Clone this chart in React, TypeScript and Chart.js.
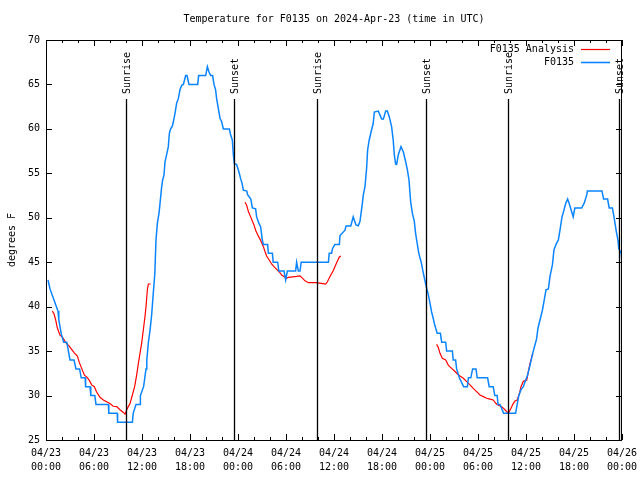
import React, { useEffect, useRef } from "react";
import { Chart, registerables } from "chart.js";

Chart.register(...registerables);

const titleText = "Temperature for F0135 on 2024-Apr-23 (time in UTC)";
const yAxisTitle = "degrees F";
const xTickDates = ["04/23", "04/23", "04/23", "04/23", "04/24", "04/24", "04/24", "04/24", "04/25", "04/25", "04/25", "04/25", "04/26"];
const xTickTimes = ["00:00", "06:00", "12:00", "18:00", "00:00", "06:00", "12:00", "18:00", "00:00", "06:00", "12:00", "18:00", "00:00"];

// hours since 04/23 00:00 UTC
const sunEventHours = [9.96, 23.54, 33.91, 47.56, 57.79, 71.63];
const sunEventLabels = ["Sunrise", "Sunset", "Sunrise", "Sunset", "Sunrise", "Sunset"];

const obsHours = [
  0.25, 0.5, 0.9, 1.3, 1.5, 1.6, 1.9, 2.2, 2.6, 2.8, 3.0, 3.5, 3.75, 4.2, 4.4, 4.9, 4.95, 5.5, 5.6, 6.1,
  6.25, 7.8, 7.85, 8.9, 8.95, 10.8, 10.9, 11.25, 11.75, 11.8, 12.2, 12.35, 12.5, 12.6, 12.8, 13.0, 13.2, 13.4, 13.6, 13.75,
  13.92, 14.125, 14.25, 14.46, 14.58, 14.75, 14.875, 15.08, 15.29, 15.42, 15.58, 15.79, 15.92, 16.125, 16.33, 16.54, 16.75, 16.96, 17.17, 17.46,
  17.625, 17.875, 18.96, 19.08, 19.96, 20.17, 20.375, 20.58, 20.83, 21.0, 21.2, 21.33, 21.54, 21.75, 21.96, 22.17, 22.92, 23.08, 23.29, 23.42,
  23.54, 23.83, 24.1, 24.33, 24.5, 24.67, 25.1, 25.2, 25.6, 25.8, 26.2, 26.33, 26.6, 26.83, 27.04, 27.17, 27.7, 27.8, 28.3, 28.4,
  28.96, 29.1, 29.75, 29.96, 30.17, 31.2, 31.33, 31.54, 31.75, 31.9, 35.3, 35.4, 35.7, 35.8, 36.1, 36.67, 36.75, 37.375, 37.5, 38.1,
  38.4, 38.75, 39.04, 39.25, 39.54, 39.67, 39.875, 40.08, 40.2, 40.4, 40.7, 40.9, 41.04, 41.54, 41.96, 42.17, 42.46, 42.67, 42.9, 43.2,
  43.4, 43.54, 43.7, 43.83, 44.04, 44.375, 44.67, 44.96, 45.17, 45.375, 45.58, 45.8, 46.04, 46.2, 46.33, 46.6, 46.9, 47.17, 47.4, 47.58,
  47.8, 48.0, 48.2, 48.4, 48.6, 48.9, 49.3, 49.46, 49.96, 50.08, 50.8, 50.9, 51.2, 51.33, 51.67, 52.2, 52.67, 52.8, 53.1, 53.33,
  53.75, 53.9, 55.2, 55.4, 55.9, 56.1, 56.4, 56.5, 56.75, 57.2, 58.7, 58.9, 59.1, 59.4, 59.67, 59.9, 60.2, 60.5, 60.8, 61.0,
  61.33, 61.5, 61.75, 62.05, 62.25, 62.5, 62.8, 63.0, 63.3, 63.5, 63.8, 64.04, 64.25, 64.5, 64.7, 64.96, 65.2, 65.4, 65.7, 65.9,
  66.1, 66.96, 67.3, 67.6, 67.67, 69.5, 69.7, 70.2, 70.4, 70.8, 71.0, 71.3, 71.5, 71.6, 71.9, 72.0,
];
const obsTemps = [
  43, 42, 41, 40, 39.5, 38.5, 37, 36, 36, 35, 34, 34, 33, 33, 32, 32, 31, 31, 30, 30,
  29, 29, 28, 28, 27, 27, 28, 29, 29, 30, 31, 32, 33, 34, 36, 37.3, 39, 41.4, 43.7, 47.5,
  49.4, 50.5, 51.6, 53.5, 54.25, 54.8, 56.3, 57.1, 58, 59.5, 60, 60.3, 60.8, 61.75, 62.9, 63.4, 64.4, 64.9, 65, 66,
  66, 65, 65, 66, 66, 67, 66.4, 66, 66, 65, 64.4, 63.4, 62.3, 61.2, 60.8, 60, 60, 59.3, 58.75, 57.1,
  56.1, 56, 55.2, 54.4, 53.9, 53.1, 53, 52.6, 52.1, 51.1, 51, 50.1, 49.4, 49, 47.5, 47, 47, 46, 46, 45,
  45, 44, 44, 43, 44, 44, 45, 44, 44, 45, 45, 46, 46, 46.5, 47, 47, 48, 48.6, 49.07, 49.07,
  50.1, 49.2, 49.1, 49.6, 51.6, 52.6, 53.5, 55.6, 57.6, 58.75, 59.9, 60.6, 61.9, 62, 61.1, 61.1, 62, 62, 61.4, 60.25,
  58.75, 57.1, 56.05, 56, 57.1, 58, 57.4, 56.3, 55.4, 54.25, 51.8, 50.5, 49.6, 48.25, 47.5, 46, 45, 43.75, 42.8, 42.1,
  41.3, 40.4, 39.4, 38.7, 37.9, 37, 37, 36, 36, 35, 35, 34, 34, 33, 32, 31, 31, 32, 32, 33,
  33, 32, 32, 31, 31, 30, 30, 29, 29, 28, 28, 29, 30, 30.7, 31, 31.6, 32.3, 33.4, 34.6, 35.3,
  36.4, 37.6, 38.5, 39.6, 40.6, 41.9, 42, 43.4, 44.7, 46.4, 47.1, 47.5, 48.6, 50.1, 50.7, 51.6, 52.1, 51.6, 50.7, 50.1,
  51.1, 51.1, 51.7, 52.6, 53, 53, 52.1, 52.1, 51.1, 51.1, 50.1, 48.4, 47.5, 46.5, 46, 45,
];

const analysisHours1 = [
  0.79, 1.0, 1.21, 1.42, 1.75, 2.08, 2.46, 2.875, 3.2, 3.54, 3.92, 4.17, 4.46, 4.8, 5.08, 5.42, 5.7, 6.04, 6.33, 6.75,
  7.17, 7.58, 8.0, 8.4, 8.83, 9.25, 9.67, 9.875, 10.17, 10.5, 10.8, 11.1, 11.33, 11.54, 11.75, 11.96, 12.17, 12.375, 12.5, 12.67,
  12.79, 13.08,
];
const analysisTemps1 = [
  39.5, 39.2, 38.5, 37.6, 36.8, 36.55, 35.95, 35.6, 35.2, 34.8, 34.45, 33.7, 33.06, 32.3, 32.1, 31.7, 31.2, 31, 30.4, 29.8,
  29.5, 29.3, 29.1, 28.8, 28.75, 28.4, 28.1, 27.9, 28.56, 29.1, 30.06, 31.1, 32.3, 33.6, 34.75, 35.9, 37.4, 38.9, 40, 41.9,
  42.55, 42.55,
];
const analysisHours2 = [
  24.875, 25.08, 25.3, 25.58, 25.8, 26.0, 26.2, 26.46, 26.75, 27.17, 27.375, 27.58, 27.9, 28.2, 28.5, 28.83, 29.17, 29.46, 29.875, 30.08,
  30.3, 31.33, 31.75, 31.96, 32.375, 32.8, 33.8, 34.58, 34.96, 35.17, 35.5, 35.9, 36.33, 36.67, 36.875,
];
const analysisTemps2 = [
  51.74, 51.4, 50.7, 50.1, 49.6, 49.2, 48.6, 48.1, 47.6, 46.75, 46.2, 45.7, 45.25, 44.8, 44.5, 44.2, 43.9, 43.56, 43.3, 43.2,
  43.3, 43.4, 43.45, 43.3, 42.9, 42.7, 42.7, 42.6, 42.55, 42.8, 43.4, 44.05, 44.95, 45.6, 45.7,
];
const analysisHours3 = [
  48.83, 49.04, 49.25, 49.54, 49.96, 50.3, 50.7, 51.125, 51.46, 51.75, 52.17, 52.58, 53.0, 53.4, 53.83, 54.25, 54.67, 55.08, 55.5, 55.9,
  56.25, 56.54, 56.96, 57.375, 57.79, 58.125, 58.4, 58.625, 58.9, 59.17, 59.375, 59.67, 60.1, 60.3, 60.5, 60.8, 60.9,
];
const analysisTemps3 = [
  35.76, 35.4, 34.75, 34.2, 34.0, 33.4, 33.06, 32.7, 32.4, 32.2, 31.94, 31.56, 31.2, 30.8, 30.44, 30.06, 29.88, 29.7, 29.6, 29.5,
  29.1, 28.9, 28.75, 28.4, 28.0, 28.56, 29.1, 29.4, 29.5, 30.2, 31.0, 31.6, 31.75, 32.76, 33.6, 34.6, 34.6,
];

const seriesNames = ["F0135 Analysis", "F0135"];
const RED = "#ff0000";
const BLUE = "#0a84ff";
const FONT = "DejaVu Sans Mono";

function pairs(xs: number[], ys: number[]) {
  return xs.map((x, i) => ({ x, y: ys[i] as number | null }));
}

const framePlugin = {
  id: "gnuFrame",
  afterDatasetsDraw(chart: any) {
    const { ctx, chartArea } = chart;
    const { left, right, top, bottom } = chartArea;
    const xs = chart.scales.x;
    const ys = chart.scales.y;
    ctx.save();
    ctx.fillStyle = "#000";
    ctx.strokeStyle = "#000";
    ctx.lineWidth = 1;
    // sunrise / sunset lines
    sunEventHours.forEach((h, i) => {
      const px = Math.round(xs.getPixelForValue(h)) + 0.5;
      ctx.beginPath();
      ctx.lineWidth = 1.3;
      ctx.moveTo(px, 99);
      ctx.lineTo(px, bottom);
      ctx.stroke();
      ctx.save();
      ctx.translate(px + 0.5, 94);
      ctx.rotate(-Math.PI / 2);
      ctx.font = `10px '${FONT}'`;
      ctx.textAlign = "left";
      ctx.textBaseline = "middle";
      ctx.fillText(sunEventLabels[i], 0, 0);
      ctx.restore();
    });
    ctx.lineWidth = 1;
    // frame
    ctx.strokeRect(left + 0.5, top + 0.5, right - left - 1, bottom - top);
    // ticks
    ctx.beginPath();
    for (let v = 25; v <= 70; v += 5) {
      const py = Math.round(ys.getPixelForValue(v)) + 0.5;
      ctx.moveTo(left, py);
      ctx.lineTo(left + 6, py);
      ctx.moveTo(right, py);
      ctx.lineTo(right - 6, py);
    }
    for (let h = 0; h <= 72; h += 2) {
      const px = Math.round(xs.getPixelForValue(h)) + 0.5;
      const len = h % 6 === 0 ? 6 : 3;
      ctx.moveTo(px, bottom);
      ctx.lineTo(px, bottom - len);
      ctx.moveTo(px, top);
      ctx.lineTo(px, top + len);
    }
    ctx.stroke();
    // title
    ctx.font = `10px '${FONT}'`;
    ctx.textAlign = "center";
    ctx.textBaseline = "middle";
    ctx.fillText(titleText, (left + right) / 2, 19);
    // y axis title
    ctx.save();
    ctx.translate(12, (top + bottom) / 2);
    ctx.rotate(-Math.PI / 2);
    ctx.fillText(yAxisTitle, 0, 0);
    ctx.restore();
    // legend
    const colors = [RED, BLUE];
    seriesNames.forEach((name, i) => {
      const ly = 49 + i * 13;
      ctx.textAlign = "right";
      ctx.fillStyle = "#000";
      ctx.fillText(name, 574, ly);
      ctx.strokeStyle = colors[i];
      ctx.lineWidth = i === 0 ? 1.2 : 1.6;
      ctx.beginPath();
      ctx.moveTo(581, ly + 0.5);
      ctx.lineTo(610, ly + 0.5);
      ctx.stroke();
    });
    ctx.restore();
  },
};

export default function App() {
  const ref = useRef<HTMLCanvasElement | null>(null);
  useEffect(() => {
    if (!ref.current) return;
    const redData = [
      ...pairs(analysisHours1, analysisTemps1),
      { x: 18, y: null },
      ...pairs(analysisHours2, analysisTemps2),
      { x: 42, y: null },
      ...pairs(analysisHours3, analysisTemps3),
    ];
    const chart = new Chart(ref.current, {
      type: "line",
      data: {
        datasets: [
          {
            label: seriesNames[1],
            data: pairs(obsHours, obsTemps),
            borderColor: BLUE,
            borderWidth: 1.5,
            pointRadius: 0,
            tension: 0,
            fill: false,
          },
          {
            label: seriesNames[0],
            data: redData,
            borderColor: RED,
            borderWidth: 1.2,
            pointRadius: 0,
            tension: 0,
            fill: false,
            spanGaps: false,
          },
        ],
      },
      options: {
        responsive: false,
        animation: false,
        events: [],
        layout: { padding: { top: 40, right: 18, left: 0, bottom: 0 } },
        plugins: { legend: { display: false }, title: { display: false }, tooltip: { enabled: false } },
        scales: {
          x: {
            type: "linear",
            min: 0,
            max: 72,
            afterFit: (s: any) => {
              s.height = 40;
              s.paddingLeft = 0;
              s.paddingRight = 0;
            },
            afterBuildTicks: (s: any) => {
              s.ticks = xTickDates.map((_, i) => ({ value: i * 6 }));
            },
            grid: { display: false, drawTicks: false },
            border: { display: false },
            ticks: {
              autoSkip: false,
              maxRotation: 0,
              minRotation: 0,
              padding: 6,
              color: "#000",
              font: { family: FONT, size: 10, lineHeight: "14px" },
              callback: (v: any) => {
                const i = Math.round(Number(v) / 6);
                return [xTickDates[i], xTickTimes[i]];
              },
            },
          },
          y: {
            type: "linear",
            min: 25,
            max: 70,
            afterFit: (s: any) => {
              s.width = 46;
              s.paddingTop = 0;
              s.paddingBottom = 0;
            },
            grid: { display: false, drawTicks: false },
            border: { display: false },
            ticks: {
              stepSize: 5,
              padding: 6,
              color: "#000",
              font: { family: FONT, size: 10 },
            },
          },
        },
      },
      plugins: [framePlugin],
    });
    return () => chart.destroy();
  }, []);
  return (
    <div style={{ position: "fixed", left: 0, top: 0, width: 640, height: 480, background: "#fff" }}>
      <canvas ref={ref} width={640} height={480} style={{ display: "block", width: 640, height: 480 }} />
    </div>
  );
}
